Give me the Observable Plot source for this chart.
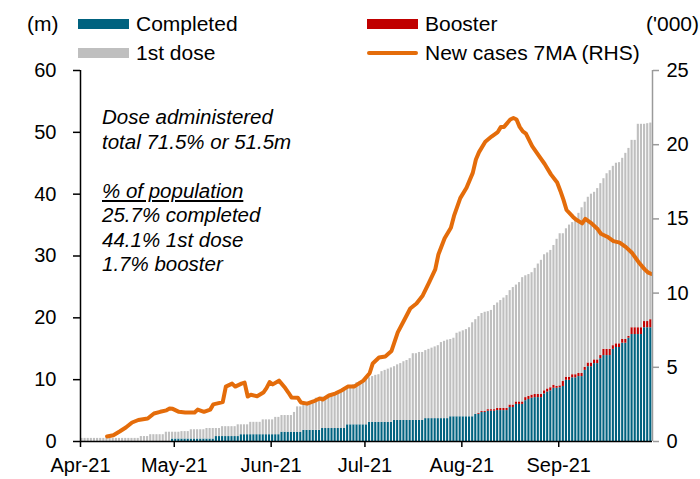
<!DOCTYPE html>
<html>
<head>
<meta charset="utf-8">
<script src="https://cdn.jsdelivr.net/npm/d3@7"></script>
<script src="https://cdn.jsdelivr.net/npm/@observablehq/plot@0.6"></script>
<style>
  body { margin: 0; background: #fff; }
  #wrap { position: relative; width: 700px; height: 479px; font-family: "Liberation Sans", Arial, sans-serif; color: #000; background: #fff; }
  #legend { position: absolute; left: 0; top: 0; width: 700px; height: 62px; font-size: 21px; z-index: 2; }
  .lg { position: absolute; display: flex; align-items: center; white-space: nowrap; }
  .sw { width: 51px; height: 10px; margin-right: 7px; }
  .ln { width: 51px; height: 4px; margin-right: 7px; border-radius: 2px; }
  #note { position: absolute; left: 102px; top: 105px; font-size: 20.5px; font-style: italic; line-height: 24.5px; z-index: 2; }
  #chart { position: absolute; left: 0; top: 40px; z-index: 1; }
</style>
</head>
<body>
<div id="wrap">
  <div id="chart"></div>
  <div id="legend"></div>
  <div id="note"></div>
</div>
<script>
// ---------- data ----------
const startDate = "2021-04-01"; // first daily bar
const seriesNames = ["Completed", "Booster", "1st dose"];
const seriesColors = ["#00627f", "#c00000", "#bfbfbf"];
const lineName = "New cases 7MA (RHS)";
const lineColor = "#e46c0a";
const monthTicks = ["2021-04-01","2021-05-01","2021-06-01","2021-07-01","2021-08-01","2021-09-01"];
const leftTicks = [0, 10, 20, 30, 40, 50, 60];
const rightTicks = [0, 5, 10, 15, 20, 25];

// total doses administered (m), daily from 1 Apr to 30 Sep
const totalDoses = [
  0.5,0.5,0.5,0.5,0.5,0.5,0.5,0.5,0.5,0.5,0.5,0.5,0.5,0.5,0.5,0.5,0.5,0.5,0.5,
  0.8,0.8,0.8, 1.1,1.1,1.1,1.1,1.1, 1.5,1.5,1.5,1.5,1.5, 1.6,1.6,1.6,
  1.9,1.9,1.9,1.9,1.9, 2.1,2.1,2.1,2.1,2.1, 2.4,2.4,2.4,2.4,2.4,
  2.7,2.7,2.7,2.7, 3.1,3.1,3.1,3.1, 3.5,3.5,3.5,3.5, 3.9,3.9,
  4.2,4.2,4.2,4.2, 4.7, 5.6,5.6, 6.1,6.1,6.1,6.1,
  7.0,7.0,7.2,7.2,7.4,7.4, 7.9,8.1,8.3,8.5,8.7, 9.0,9.2,9.5,9.7,9.9,
  10.2,10.3,10.5,10.7,10.8, 11.3,11.5,11.7,11.9,12.1, 12.4,12.6,12.9,13.1,13.4,
  14.2,14.2,14.4,14.4, 14.7,14.9,15.1,15.3,15.5, 16.0,16.2,16.4,16.5,16.7,
  17.5,17.7,17.9,18.1,18.4, 19.2,19.7,20.2,20.7, 20.9,21.0,21.2,
  22.0,22.4,22.8,23.2,23.6, 24.4,24.9,25.3,25.7, 26.5,26.8,27.0,27.3,
  28.0,28.7,29.3, 30.2,30.5,30.9, 31.7,32.7, 33.6,33.6, 34.4,35.0,
  35.4,36.1,36.9, 37.8,38.7, 39.5,40.0, 40.3,40.9,41.7, 42.5,43.3,
  43.8,44.5,45.0, 45.1,45.8, 46.6,47.4, 48.7,48.7, 51.3,51.3, 51.3,51.4,51.5
];
// fully vaccinated (m)
const completed = [
  0,0,0,0,0,0,0,0,0,0,0,0,0,0,0,0,0,0,0,0,0,0,0,0,0,0,0,0,0,
  0.4,0.4,0.4,0.4,0.4,0.4,0.4,0.4,0.4,0.4,0.4,0.4,0.4,0.4,
  0.8,0.8,0.8,0.8,0.8,0.8,0.8,0.8,
  1.1,1.1,1.1,1.1,1.1,1.1,1.1,1.1,1.1,1.1,1.1,1.1,1.1,
  1.5,1.5,1.5,1.5,1.5,1.5,1.5, 1.8,1.8,1.8,1.8,1.8,1.8,
  2.1,2.1,2.1,2.1,2.1,2.1,2.1,2.1, 2.7,2.7,2.7,2.7,2.7,2.7,2.7,
  3.1,3.1,3.1,3.1,3.1,3.1,3.1,3.1, 3.4,3.4,3.4,3.4,3.4,3.4,3.4,3.4,3.4,3.4,
  3.7,3.7,3.7,3.7,3.7,3.7,3.7,3.7, 4.0,4.0,4.0,4.0,4.0,4.0,4.0,4.0,
  4.4,4.4, 4.7,4.7, 4.9,4.9,4.9, 5.0,5.0,5.0,5.0, 5.5,5.5, 6.0,6.0,6.0,
  6.6,6.8,7.0, 7.1,7.1,7.1, 7.7,8.0,8.2, 8.6,8.6,8.7, 8.9, 9.9,9.9,
  10.3,10.3, 10.5,10.5, 11.5, 12.1,12.1, 12.6,12.6, 13.4, 13.9,13.9,13.9,
  14.9, 15.2,15.2, 15.9,15.9, 16.7, 17.3,17.3,17.3,17.3, 18.4,18.4,18.4
];
// booster doses (m)
const booster = [
  0,0,0,0,0,0,0,0,0,0,0,0,0,0,0,0,0,0,0,0,0,0,0,0,0,0,0,0,0,0,
  0,0,0,0,0,0,0,0,0,0,0,0,0,0,0,0,0,0,0,0,0,0,0,0,0,0,0,0,0,0,
  0,0,0,0,0,0,0,0,0,0,0,0,0,0,0,0,0,0,0,0,0,0,0,0,0,0,0,0,0,0,
  0,0,0,0,0,0,0,0,0,0,0,0,0,0,0,0,0,0,0,0,0,0,0,0,0,0,0,0,0,0,
  0,0,0,0,0,0,0,
  0.15,0.15,0.15, 0.25,0.25,0.25, 0.35,0.35,0.35,0.35, 0.4,0.4,0.4,0.4,0.4,
  0.5,0.5,0.5,0.5,0.5,0.5, 0.5,0.5,0.5,0.5, 0.3,0.3, 0.8,
  0.5,0.5,0.5,0.5,0.5,0.5,0.5, 0.6,0.6,0.6,0.6, 0.5, 1.0,1.0,1.0,
  0.6,0.6,0.6, 0.6,0.6, 0.3, 1.1,1.1,1.1,1.1, 1.0,1.0, 1.3
];
// new cases, 7-day moving average ('000)
const caseDates = [
  "2021-04-09","2021-04-11","2021-04-13","2021-04-15","2021-04-17","2021-04-19","2021-04-21","2021-04-22",
  "2021-04-24","2021-04-26","2021-04-28","2021-04-29","2021-04-30","2021-05-02","2021-05-04","2021-05-07",
  "2021-05-08","2021-05-10","2021-05-12","2021-05-13","2021-05-15","2021-05-16","2021-05-17","2021-05-19",
  "2021-05-20","2021-05-22","2021-05-23","2021-05-24","2021-05-25","2021-05-27","2021-05-29","2021-05-30",
  "2021-05-31","2021-06-01","2021-06-03","2021-06-05","2021-06-06","2021-06-07","2021-06-09","2021-06-10",
  "2021-06-12","2021-06-14","2021-06-16","2021-06-17","2021-06-19","2021-06-21","2021-06-23","2021-06-25",
  "2021-06-27","2021-06-30","2021-07-02","2021-07-03","2021-07-05","2021-07-07","2021-07-09","2021-07-11",
  "2021-07-13","2021-07-15","2021-07-17","2021-07-19","2021-07-21","2021-07-23","2021-07-24","2021-07-26",
  "2021-07-28","2021-07-29","2021-07-31","2021-08-02","2021-08-04","2021-08-05","2021-08-06","2021-08-08",
  "2021-08-10","2021-08-12","2021-08-13","2021-08-14","2021-08-16","2021-08-17","2021-08-18","2021-08-19",
  "2021-08-20","2021-08-21","2021-08-23","2021-08-25","2021-08-27","2021-08-29","2021-08-31","2021-09-01",
  "2021-09-02","2021-09-03","2021-09-05","2021-09-06","2021-09-08","2021-09-09","2021-09-11","2021-09-13",
  "2021-09-14","2021-09-16","2021-09-18","2021-09-20","2021-09-22","2021-09-24","2021-09-26","2021-09-28",
  "2021-09-29","2021-09-30"
];
const caseValues = [
  0.34,0.42,0.67,0.94,1.28,1.45,1.52,1.55,
  1.89,2.0,2.1,2.22,2.2,2.0,1.95,1.95,
  2.15,2.0,2.15,2.5,2.6,2.65,3.7,3.9,
  3.7,3.9,3.97,3.03,3.15,3.05,3.3,3.6,
  4.0,3.85,4.1,3.6,3.3,2.97,2.95,2.63,
  2.55,2.7,2.9,2.83,3.1,3.23,3.44,3.7,
  3.7,4.1,4.6,5.26,5.66,5.73,6.1,7.35,
  8.15,8.96,9.3,9.84,10.7,11.6,12.6,13.7,
  14.4,15.2,16.4,17.1,18.1,19.0,19.5,20.2,
  20.55,20.85,21.2,21.2,21.7,21.8,21.7,21.2,
  20.9,20.75,19.9,19.3,18.7,18.0,17.45,16.9,
  16.3,15.6,15.15,14.96,14.7,15.0,14.7,14.3,
  14.0,13.8,13.5,13.4,13.1,12.7,12.1,11.6,
  11.4,11.3
];
const noteLines = ["Dose administered", "total 71.5% or 51.5m", "", "% of population", "25.7% completed", "44.1% 1st dose", "1.7% booster"];

// ---------- build tables ----------
const day = 864e5;
const t0 = new Date(startDate + "T00:00:00Z").getTime();
const rows = [];
totalDoses.forEach((tot, i) => {
  const date = new Date(t0 + i * day);
  const c = completed[i], b = booster[i];
  rows.push({date, series: seriesNames[0], value: c});
  rows.push({date, series: seriesNames[1], value: b});
  rows.push({date, series: seriesNames[2], value: Math.max(0, tot - c - b)});
});
const scaleRatio = 60 / 25; // RHS -> LHS
const cases = caseDates.map((d, i) => ({date: new Date(new Date(d + "T00:00:00Z").getTime() + day / 2), v: caseValues[i]}));
const xDomain = [new Date(startDate + "T00:00:00Z"), new Date("2021-10-01T00:00:00Z")];

const font = "Liberation Sans, Arial, sans-serif";
const chart = Plot.plot({
  width: 700,
  height: 439,
  marginTop: 30,
  marginBottom: 38,
  marginLeft: 80,
  marginRight: 48,
  style: {fontFamily: font, fontSize: "20px", color: "#000", background: "transparent", overflow: "visible"},
  x: {type: "utc", domain: xDomain},
  y: {domain: [0, 60]},
  color: {domain: seriesNames, range: seriesColors},
  marks: [
    Plot.rectY(rows, {x: "date", y: "value", fill: "series", interval: d3.utcDay, order: seriesNames, insetLeft: 0.4, insetRight: 0.6}),
    Plot.line(cases, {x: "date", y: d => d.v * scaleRatio, stroke: lineColor, strokeWidth: 4, strokeLinejoin: "round", strokeLinecap: "round", curve: "linear"}),
    Plot.ruleX([xDomain[0]], {stroke: "#000", strokeWidth: 1.5}),
    Plot.ruleX([xDomain[1]], {stroke: "#9a9a9a", strokeWidth: 1.5}),
    Plot.ruleY([0], {stroke: "#000", strokeWidth: 1.5, x1: xDomain[0], x2: xDomain[1]}),
    Plot.axisY(leftTicks, {anchor: "left", tickSize: 7, tickPadding: 17, stroke: "#000", strokeWidth: 1.5, fontSize: 20, label: null}),
    Plot.axisY(rightTicks, {anchor: "right", y: d => d * scaleRatio, text: d => String(d), tickSize: 6, tickPadding: 8, stroke: "#9a9a9a", strokeWidth: 1.5, fill: "#000", fontSize: 20, label: null}),
    Plot.axisX(monthTicks.map(d => new Date(d + "T00:00:00Z")), {anchor: "bottom", tickSize: 6, tickPadding: 10, stroke: "#000", strokeWidth: 1.5, tickFormat: d3.utcFormat("%b-%y"), fontSize: 20, label: null})
  ]
});
document.getElementById("chart").appendChild(chart);

// ---------- legend & labels ----------
const legend = document.getElementById("legend");
const items = [
  {html: "(m)", left: 27, top: 12, type: "text"},
  {label: seriesNames[0], color: seriesColors[0], left: 78, top: 12, type: "box"},
  {label: seriesNames[1], color: seriesColors[1], left: 367, top: 12, type: "box"},
  {label: seriesNames[2], color: seriesColors[2], left: 78, top: 41, type: "box"},
  {label: lineName, color: lineColor, left: 367, top: 41, type: "line"},
  {html: "('000)", left: 646, top: 12, type: "text"}
];
items.forEach(it => {
  const d = document.createElement("div");
  d.className = "lg";
  d.style.left = it.left + "px";
  d.style.top = it.top + "px";
  d.style.height = "24px";
  if (it.type === "text") {
    d.textContent = it.html;
  } else {
    const s = document.createElement("span");
    s.className = it.type === "box" ? "sw" : "ln";
    s.style.background = it.color;
    d.appendChild(s);
    const t = document.createElement("span");
    t.textContent = it.label;
    d.appendChild(t);
  }
  legend.appendChild(d);
});
const note = document.getElementById("note");
noteLines.forEach((l, i) => {
  const d = document.createElement("div");
  d.style.height = "24.5px";
  d.textContent = l;
  if (i === 3) { d.style.textDecoration = "underline"; }
  note.appendChild(d);
});
</script>
</body>
</html>
